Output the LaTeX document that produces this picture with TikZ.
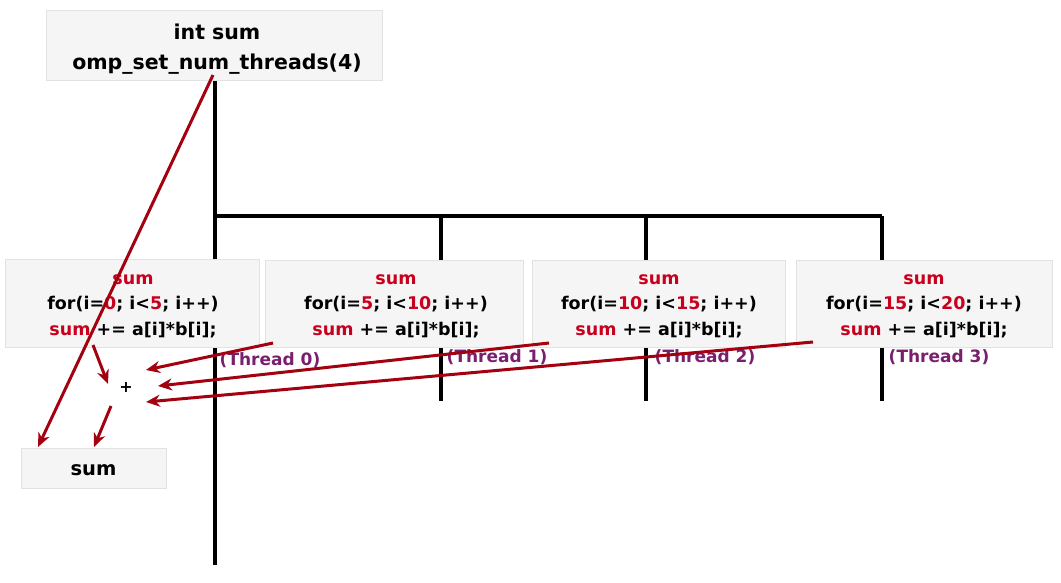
\documentclass[tikz,border=0pt]{standalone}
\usepackage{fontspec}
\setmainfont{DejaVu Sans}
\usetikzlibrary{arrows.meta}
\definecolor{boxfill}{HTML}{F5F5F5}
\definecolor{boxline}{HTML}{E2E2E2}
\definecolor{codered}{HTML}{C8001E}
\definecolor{thpurple}{HTML}{7A1F6E}
\definecolor{arrred}{HTML}{A30010}
\tikzset{
  box/.style={draw=boxline, fill=boxfill, line width=1pt, inner sep=0pt},
  boxtext/.style={inner sep=0pt, align=center, font={\bfseries\fontsize{17.5}{25.5}\selectfont}},
  toptext/.style={boxtext, font={\bfseries\fontsize{20.5}{30}\selectfont}},
  tlabel/.style={text=thpurple, font={\bfseries\fontsize{17}{20}\selectfont}, inner sep=0pt},
  flow/.style={line width=3.2pt, black},
  redarr/.style={line width=3pt, arrred, -{Stealth[length=14pt,width=12pt]}},
}
\newcommand{\rs}[1]{\textcolor{codered}{#1}}
\begin{document}
\begin{tikzpicture}[x=1pt,y=-1pt]
\useasboundingbox[fill=white] (0,0) rectangle (1061,582);
% flow lines
\coordinate (mtop) at (215,80);
\coordinate (mbot) at (215,565);
\coordinate (h0) at (215,216);
\coordinate (h1) at (441,216);
\coordinate (h2) at (646,216);
\coordinate (h3) at (882,216);
\coordinate (b1) at (441,401);
\coordinate (b2) at (646,401);
\coordinate (b3) at (882,401);
\draw[flow] (mtop) -- (mbot);
\draw[flow] (h0) -- (h3);
\draw[flow] (h1) -- (b1);
\draw[flow] (h2) -- (b2);
\draw[flow] (h3) -- (b3);
% boxes
\node[box, minimum width=336pt, minimum height=70pt] (top) at (214,45) {};
\node[toptext] (toptxt) at (217,49) {int sum\\omp\_set\_num\_threads(4)};
\node[box, minimum width=254pt, minimum height=88pt] (t0) at (132,303) {};
\node[boxtext] (t0txt) at (133,306) {\rs{sum}\\for(i=\rs{0}; i<\rs{5}; i++)\\\rs{sum} += a[i]*b[i];};
\node[box, minimum width=258pt, minimum height=87pt] (t1) at (394,303.5) {};
\node[boxtext] (t1txt) at (396,306) {\rs{sum}\\for(i=\rs{5}; i<\rs{10}; i++)\\\rs{sum} += a[i]*b[i];};
\node[box, minimum width=253pt, minimum height=87pt] (t2) at (658.5,303.5) {};
\node[boxtext] (t2txt) at (659,306) {\rs{sum}\\for(i=\rs{10}; i<\rs{15}; i++)\\\rs{sum} += a[i]*b[i];};
\node[box, minimum width=256pt, minimum height=87pt] (t3) at (924,303.5) {};
\node[boxtext] (t3txt) at (924,306) {\rs{sum}\\for(i=\rs{15}; i<\rs{20}; i++)\\\rs{sum} += a[i]*b[i];};
\node[box, minimum width=145pt, minimum height=40pt] (res) at (93.5,468) {};
\node[boxtext, font={\bfseries\fontsize{19.5}{22}\selectfont}] (restxt) at (93.5,470) {sum};
% thread labels
\node[tlabel] (l0) at (270,360) {(Thread 0)};
\node[tlabel] (l1) at (497,357) {(Thread 1)};
\node[tlabel] (l2) at (705,357) {(Thread 2)};
\node[tlabel] (l3) at (939,357) {(Thread 3)};
% plus
\node[font={\bfseries\fontsize{16}{18}\selectfont}, inner sep=0pt] (plus) at (126,387) {+};
% arrow end points
\coordinate (s0) at (213,75);
\coordinate (e0) at (38,447);
\coordinate (s1) at (93,345);
\coordinate (e1) at (108,384);
\coordinate (s2) at (111,406);
\coordinate (e2) at (94,447);
\coordinate (s3) at (273,343);
\coordinate (e3) at (146,370);
\coordinate (s4) at (549,343);
\coordinate (e4) at (158,386);
\coordinate (s5) at (813,342);
\coordinate (e5) at (146,402);
\draw[redarr] (s0) -- (e0);
\draw[redarr] (s1) -- (e1);
\draw[redarr] (s2) -- (e2);
\draw[redarr] (s3) -- (e3);
\draw[redarr] (s4) -- (e4);
\draw[redarr] (s5) -- (e5);
\end{tikzpicture}
\end{document}
